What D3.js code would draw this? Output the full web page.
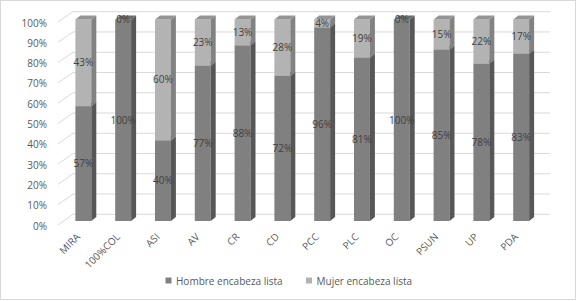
<!DOCTYPE html>
<html>
<head>
<meta charset="utf-8">
<script src="https://cdn.jsdelivr.net/npm/d3@7"></script>
<style>
  body { margin: 0; background: #fff; }
  svg text { font-family: "Open Sans", sans-serif; }
</style>
</head>
<body>
<div id="chart"></div>
<script>
const width = 577, height = 301;

// Data
const partidos = ["MIRA", "100%COL", "ASI", "AV", "CR", "CD", "PCC", "PLC", "OC", "PSUN", "UP", "PDA"];
const hombre = [57, 100, 40, 77, 88, 72, 96, 81, 100, 85, 78, 83];
const mujer = [43, 0, 60, 23, 13, 28, 4, 19, 0, 15, 22, 17];
const series = ["Hombre encabeza lista", "Mujer encabeza lista"];
const yTicks = [0, 0.1, 0.2, 0.3, 0.4, 0.5, 0.6, 0.7, 0.8, 0.9, 1];

// colours per series: front, side, top
const colors = [
    { front: "#808080", side: "#575757", top: "#6c6c6c" },
    { front: "#b3b3b3", side: "#828282", top: "#959595" }
];

const svg = d3.select("#chart")
    .append("svg")
    .attr("width", width)
    .attr("height", height);

// outer frame
svg.append("rect")
    .attr("x", 0.5).attr("y", 0.5)
    .attr("width", width - 2).attr("height", height - 2)
    .attr("fill", "#fff")
    .attr("stroke", "#d9d9d9");

// scales: front edge of floor, back wall, bar front face
const yFront = d3.scaleLinear().domain([0, 1]).range([225, 22]);
const yBack = d3.scaleLinear().domain([0, 1]).range([214.3, 11.7]);
const yBar = d3.scaleLinear().domain([0, 1]).range([221, 19.5]);

const x = d3.scaleBand()
    .domain(partidos)
    .range([51.5, 553])
    .padding(0.6);

const depth = { dx: 5, dy: -4 };
const wallLeft = 73, wallRight = 550, floorLeft = 58;

// gridlines on back wall + slanted side wall lines
const grid = svg.append("g").attr("stroke", "#d9d9d9").attr("fill", "none");
yTicks.forEach(t => {
    grid.append("line")
        .attr("x1", wallLeft).attr("x2", wallRight)
        .attr("y1", yBack(t)).attr("y2", yBack(t));
    grid.append("line")
        .attr("x1", floorLeft).attr("y1", yFront(t))
        .attr("x2", wallLeft).attr("y2", yBack(t));
});

// y axis labels
svg.append("g")
    .selectAll("text")
    .data(yTicks)
    .join("text")
    .attr("x", 47)
    .attr("y", d => yFront(d) + 1)
    .attr("dy", "0.35em")
    .attr("text-anchor", "end")
    .attr("font-size", 10)
    .attr("fill", "#595959")
    .text(d3.format(".0%"));

// stacked (100%) data
const table = partidos.map((p, i) => ({ partido: p, h: hombre[i], m: mujer[i] }));
const stack = d3.stack().keys(["h", "m"]).offset(d3.stackOffsetExpand);
const stacked = stack(table);

const bars = svg.append("g");
partidos.forEach((p, i) => {
    const x0 = x(p), w = x.bandwidth();
    stacked.forEach((s, k) => {
        const [a, b] = s[i];
        if (b - a <= 0) return;
        const yb = yBar(a), yt = yBar(b);
        const c = colors[k];
        const g = bars.append("g");
        g.append("rect")
            .attr("x", x0).attr("y", yt)
            .attr("width", w).attr("height", yb - yt)
            .attr("fill", c.front);
        g.append("path")
            .attr("fill", c.side)
            .attr("d", `M${x0 + w},${yb} L${x0 + w + depth.dx},${yb + depth.dy} L${x0 + w + depth.dx},${yt + depth.dy} L${x0 + w},${yt} Z`);
        g.append("path")
            .attr("fill", c.top)
            .attr("d", `M${x0},${yt} L${x0 + depth.dx},${yt + depth.dy} L${x0 + w + depth.dx},${yt + depth.dy} L${x0 + w},${yt} Z`);
    });
});

// data labels
const values = [hombre, mujer];
const labels = svg.append("g");
partidos.forEach((p, i) => {
    stacked.forEach((s, k) => {
        const [a, b] = s[i];
        labels.append("text")
            .attr("x", x(p) + x.bandwidth() / 2)
            .attr("y", yBar((a + b) / 2))
            .attr("dy", "0.35em")
            .attr("text-anchor", "middle")
            .attr("font-size", 10)
            .attr("fill", "#404040")
            .text(values[k][i] + "%");
    });
});

// category labels, rotated 45 degrees
svg.append("g")
    .selectAll("text")
    .data(partidos)
    .join("text")
    .attr("transform", d => `translate(${x(d) + x.bandwidth() / 2 - 5},235) rotate(-45)`)
    .attr("text-anchor", "end")
    .attr("dy", "0.35em")
    .attr("font-size", 10)
    .attr("fill", "#595959")
    .text(d => d);

// legend
const legendX = [165.5, 306];
const legend = svg.append("g");
series.forEach((name, k) => {
    legend.append("rect")
        .attr("x", legendX[k]).attr("y", 277.5)
        .attr("width", 6).attr("height", 6)
        .attr("fill", colors[k].front);
    legend.append("text")
        .attr("x", legendX[k] + 10.5).attr("y", 281)
        .attr("dy", "0.35em")
        .attr("font-size", 10)
        .attr("fill", "#595959")
        .text(name);
});
</script>
</body>
</html>
